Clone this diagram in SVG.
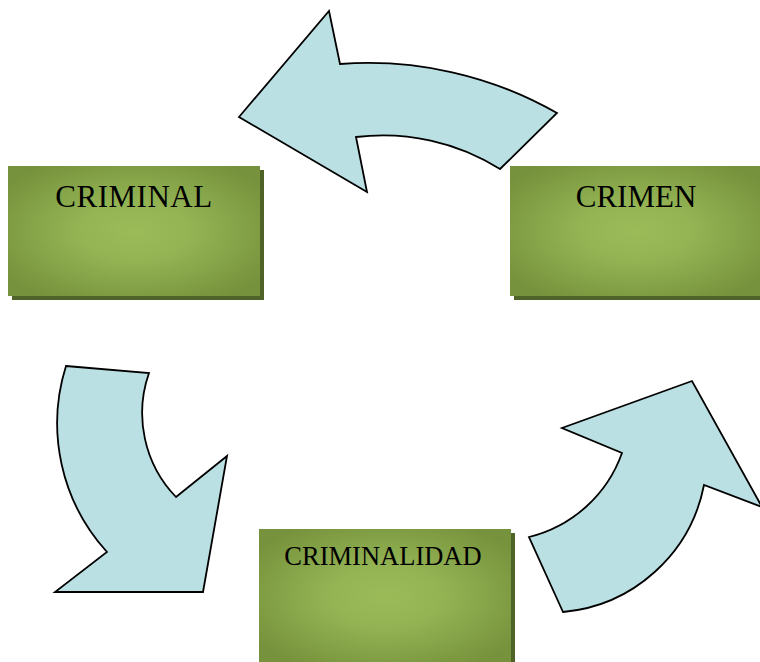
<svg xmlns="http://www.w3.org/2000/svg" width="760" height="662" viewBox="0 0 760 662">
  <defs>
    <radialGradient id="boxFill" cx="0.5" cy="0.5" r="0.62">
      <stop offset="0" stop-color="#9bbb59"/>
      <stop offset="0.35" stop-color="#94b454"/>
      <stop offset="1" stop-color="#76923c"/>
    </radialGradient>
    <style>
      .shadow { fill: #4f6228; }
      .box { fill: url(#boxFill); }
      .label { font-family: "Liberation Serif", "Times New Roman", serif; fill: #000; text-anchor: middle; }
      .arrow { fill: #bbe0e3; stroke: #000; stroke-width: 1.8; stroke-linejoin: miter; }
    </style>
  </defs>
  <rect width="760" height="662" fill="#ffffff"/>

  <!-- curved block arrows of the cycle -->
  <g id="connectors">
    <!-- CRIMEN to CRIMINAL -->
    <path class="arrow" d="M239,117 L329,11 L340,64 A380,380 0 0 1 557,113 L500,169 A220,220 0 0 0 356,137 L367,192 Z"/>
    <!-- CRIMINAL to CRIMINALIDAD -->
    <path class="arrow" d="M66,366 L149,373 A121,121 0 0 0 176,497 L227,456 L203,592 L55,592 L107,552 A191,191 0 0 1 66,366 Z"/>
    <!-- CRIMINALIDAD to CRIMEN -->
    <path class="arrow" d="M563,612 L529,537 A132,132 0 0 0 622,453 L562,428 L692,381 L762,507 L704,485 A158,158 0 0 1 563,612 Z"/>
  </g>

  <g id="node-criminal">
    <rect class="shadow" x="12" y="170" width="252" height="130"/>
    <rect class="box" x="8" y="166" width="252" height="130"/>
    <text class="label" x="134" y="207" font-size="31" letter-spacing="0.5">CRIMINAL</text>
  </g>

  <g id="node-crimen">
    <rect class="shadow" x="514" y="170" width="250" height="130"/>
    <rect class="box" x="510" y="166" width="252" height="130"/>
    <text class="label" x="636" y="207" font-size="31">CRIMEN</text>
  </g>

  <g id="node-criminalidad">
    <rect class="shadow" x="263" y="533" width="252" height="134"/>
    <rect class="box" x="259" y="529" width="252" height="134"/>
    <text class="label" x="383" y="565" font-size="26.5">CRIMINALIDAD</text>
  </g>
</svg>
